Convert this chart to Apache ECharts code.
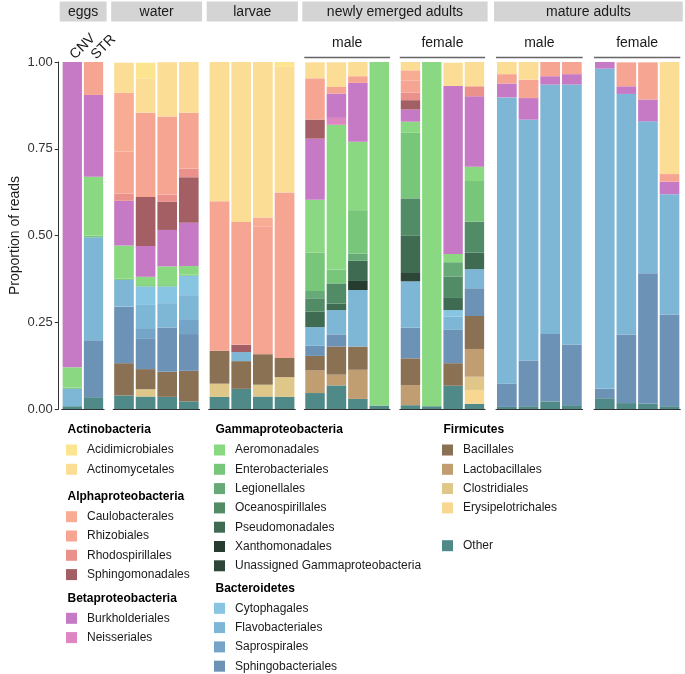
<!DOCTYPE html>
<html>
<head>
<meta charset="utf-8">
<script src="https://cdn.jsdelivr.net/npm/echarts@6/dist/echarts.min.js"></script>
<style>
  html, body { margin: 0; padding: 0; background: #fff; }
  #chart { width: 685px; height: 674px; }
</style>
</head>
<body>
<div id="chart"></div>
<script>
// samples, in panel order: eggs(2), water(4), larvae(4), newly emerged male/female (4+4), mature male/female (4+4)
var samples = ['CNV', 'STR', 'W1', 'W2', 'W3', 'W4', 'L1', 'L2', 'L3', 'L4',
  'NM1', 'NM2', 'NM3', 'NM4', 'NF1', 'NF2', 'NF3', 'NF4',
  'MM1', 'MM2', 'MM3', 'MM4', 'MF1', 'MF2', 'MF3', 'MF4']
var panelSizes = [2, 4, 4, 4, 4, 4, 4]
var stripLabels = ['eggs', 'water', 'larvae', 'newly emerged adults', 'mature adults']
var stripPanels = [[0], [1], [2], [3, 4], [5, 6]]
var subLabels = ['', '', '', 'male', 'female', 'male', 'female']
var yTicks = ['0.00', '0.25', '0.50', '0.75', '1.00']

// proportion of reads per order (one value per sample, same order as samples)
var acidimicrobiales   = [0, 0, 0, .045, 0, 0, 0, 0, 0, .014, 0, 0, 0, 0, 0, 0, 0, 0, 0, 0, 0, 0, 0, 0, 0, 0]
var actinomycetales    = [0, 0, .087, .099, .156, .146, .401, .462, .448, .362, .046, .071, .041, 0, .024, 0, .067, .07, .035, .051, 0, 0, 0, 0, 0, .323]
var caulobacterales    = [0, 0, .169, 0, 0, 0, 0, 0, .025, 0, 0, 0, 0, 0, .029, 0, 0, 0, 0, 0, 0, 0, 0, 0, 0, 0]
var rhizobiales        = [0, .096, .121, .243, .225, .161, .431, .354, .369, .477, .119, .019, .019, 0, .035, 0, 0, 0, .027, .053, .041, .035, 0, .069, .107, .022]
var rhodospirillales   = [0, 0, .021, 0, .021, .025, 0, 0, 0, 0, 0, 0, 0, 0, .022, 0, 0, .029, 0, 0, 0, 0, 0, 0, 0, 0]
var sphingomonadales   = [0, 0, 0, .141, .081, .131, 0, .021, 0, 0, .055, 0, 0, 0, .027, 0, 0, 0, 0, 0, 0, 0, 0, 0, 0, 0]
var burkholderiales    = [.88, .236, .129, .089, .105, .125, 0, 0, 0, 0, .176, .07, .17, 0, .035, 0, .484, .203, .04, .062, .024, .03, .019, .022, .063, .036]
var neisseriales       = [0, 0, 0, 0, 0, 0, 0, 0, 0, 0, 0, .02, 0, 0, 0, 0, 0, 0, 0, 0, 0, 0, 0, 0, 0, 0]
var aeromonadales      = [.058, .17, .095, .024, .054, .025, 0, 0, 0, 0, .152, .417, .197, .99, .032, .992, .024, .041, 0, 0, 0, 0, 0, 0, 0, 0]
var enterobacteriales  = [.004, .004, .004, .004, .004, .003, 0, 0, 0, 0, .111, .04, .125, 0, .189, 0, 0, .117, 0, 0, 0, 0, 0, 0, 0, 0]
var legionellales      = [0, 0, 0, 0, 0, 0, 0, 0, 0, 0, .021, 0, .021, 0, 0, 0, .041, 0, 0, 0, 0, 0, 0, 0, 0, 0]
var oceanospirillales  = [0, 0, 0, 0, 0, 0, 0, 0, 0, 0, .038, .058, 0, 0, .108, 0, .062, .089, 0, 0, 0, 0, 0, 0, 0, 0]
var pseudomonadales    = [0, 0, 0, 0, 0, 0, 0, 0, 0, 0, .045, .019, .058, 0, .107, 0, .035, .048, 0, 0, 0, 0, 0, 0, 0, 0]
var xanthomonadales    = [0, 0, 0, 0, 0, 0, 0, 0, 0, 0, 0, 0, .026, 0, 0, 0, 0, 0, 0, 0, 0, 0, 0, 0, 0, 0]
var unassignedGamma    = [0, 0, 0, 0, 0, 0, 0, 0, 0, 0, 0, 0, 0, 0, .024, 0, 0, 0, 0, 0, 0, 0, 0, 0, 0, 0]
var cytophagales       = [0, 0, 0, .053, .048, .056, 0, 0, 0, 0, 0, 0, 0, 0, 0, 0, .019, 0, 0, 0, 0, 0, 0, 0, 0, 0]
var flavobacteriales   = [.05, .297, .077, .067, .07, .069, 0, .026, 0, 0, .054, .07, .163, 0, .134, 0, .038, .055, .825, .694, .719, .749, .923, .693, .438, .347]
var saprospirales      = [0, 0, 0, .031, 0, .043, 0, 0, 0, 0, 0, 0, 0, 0, 0, 0, 0, 0, 0, 0, 0, 0, 0, 0, 0, 0]
var sphingobacteriales = [0, .164, .163, .087, .128, .106, 0, 0, 0, 0, .029, .035, 0, 0, .088, 0, .096, .08, .067, .132, .194, .175, .027, .198, .376, .264]
var bacillales         = [0, 0, .093, .058, .072, .088, .095, .08, .088, .055, .042, .081, .067, 0, .077, 0, .065, .095, 0, 0, 0, 0, 0, 0, 0, 0]
var lactobacillales    = [0, 0, 0, 0, 0, 0, 0, 0, 0, 0, .065, .031, .084, 0, .058, 0, 0, .08, 0, 0, 0, 0, 0, 0, 0, 0]
var clostridiales      = [0, 0, 0, .021, 0, 0, .038, 0, .034, .057, 0, 0, 0, 0, 0, 0, 0, .038, 0, 0, 0, 0, 0, 0, 0, 0]
var erysipelotrichales = [0, 0, 0, 0, 0, 0, 0, 0, 0, 0, 0, 0, 0, 0, 0, 0, 0, .04, 0, 0, 0, 0, 0, 0, 0, 0]
var other              = [.008, .034, .039, .036, .035, .022, .035, .058, .036, .035, .046, .068, .029, .01, .011, .008, .067, .015, .006, .008, .022, .011, .031, .017, .015, .008]

// legend order (top of stack first)
var taxa = [
  { name: 'Acidimicrobiales', color: '#FCE58E', values: acidimicrobiales },
  { name: 'Actinomycetales', color: '#FCDD95', values: actinomycetales },
  { name: 'Caulobacterales', color: '#F9AC94', values: caulobacterales },
  { name: 'Rhizobiales', color: '#F7A593', values: rhizobiales },
  { name: 'Rhodospirillales', color: '#EB918C', values: rhodospirillales },
  { name: 'Sphingomonadales', color: '#A35F64', values: sphingomonadales },
  { name: 'Burkholderiales', color: '#C679C4', values: burkholderiales },
  { name: 'Neisseriales', color: '#DD86C1', values: neisseriales },
  { name: 'Aeromonadales', color: '#8BD883', values: aeromonadales },
  { name: 'Enterobacteriales', color: '#78C67A', values: enterobacteriales },
  { name: 'Legionellales', color: '#67AA77', values: legionellales },
  { name: 'Oceanospirillales', color: '#528C66', values: oceanospirillales },
  { name: 'Pseudomonadales', color: '#3E6B51', values: pseudomonadales },
  { name: 'Xanthomonadales', color: '#253C2F', values: xanthomonadales },
  { name: 'Unassigned Gammaproteobacteria', color: '#2D4637', values: unassignedGamma },
  { name: 'Cytophagales', color: '#87C5E2', values: cytophagales },
  { name: 'Flavobacteriales', color: '#7EB6D6', values: flavobacteriales },
  { name: 'Saprospirales', color: '#74A5C8', values: saprospirales },
  { name: 'Sphingobacteriales', color: '#6C92B6', values: sphingobacteriales },
  { name: 'Bacillales', color: '#8A7154', values: bacillales },
  { name: 'Lactobacillales', color: '#C09E72', values: lactobacillales },
  { name: 'Clostridiales', color: '#DFC689', values: clostridiales },
  { name: 'Erysipelotrichales', color: '#F8D891', values: erysipelotrichales },
  { name: 'Other', color: '#4F8A88', values: other }
]

var legendGroups = [
  { title: 'Actinobacteria', x: 66, y: 430, items: ['Acidimicrobiales', 'Actinomycetales'] },
  { title: 'Alphaproteobacteria', x: 66, y: 496.7, items: ['Caulobacterales', 'Rhizobiales', 'Rhodospirillales', 'Sphingomonadales'] },
  { title: 'Betaproteobacteria', x: 66, y: 598.3, items: ['Burkholderiales', 'Neisseriales'] },
  { title: 'Gammaproteobacteria', x: 214, y: 430, items: ['Aeromonadales', 'Enterobacteriales', 'Legionellales', 'Oceanospirillales', 'Pseudomonadales', 'Xanthomonadales', 'Unassigned Gammaproteobacteria'] },
  { title: 'Bacteroidetes', x: 214, y: 588.3, items: ['Cytophagales', 'Flavobacteriales', 'Saprospirales', 'Sphingobacteriales'] },
  { title: 'Firmicutes', x: 442, y: 430, items: ['Bacillales', 'Lactobacillales', 'Clostridiales', 'Erysipelotrichales'] },
  { title: '', x: 442, y: 525.7, items: ['Other'] }
]

var FONT = '"Liberation Sans", Arial, sans-serif'
var gridLeft = [61.7, 113.2, 208.7, 304.3, 399.8, 496, 594]
var gridWidth = [42.4, 86.4, 86.7, 85.7, 85.3, 86.7, 86.3]
var gridTop = 62
var gridHeight = 347

var chart = echarts.init(document.getElementById('chart'))

var grids = [], xAxes = [], yAxes = [], series = [], graphics = []
var start = 0
panelSizes.forEach(function(n, g) {
  var cats = samples.slice(start, start + n)
  grids.push({ left: gridLeft[g], width: gridWidth[g], top: gridTop, height: gridHeight })
  xAxes.push({
    type: 'category', gridIndex: g, data: cats,
    axisLine: { lineStyle: { color: '#333', width: 1 } },
    axisTick: { alignWithLabel: true, length: 4, lineStyle: { color: '#333' } },
    axisLabel: { show: false }
  })
  yAxes.push({
    type: 'value', gridIndex: g, min: 0, max: 1, interval: 0.25,
    show: g === 0, offset: 3,
    name: g === 0 ? 'Proportion of reads' : '',
    nameLocation: 'middle', nameGap: 37,
    nameTextStyle: { fontSize: 14, color: '#1a1a1a', fontFamily: FONT },
    axisLine: { show: true, lineStyle: { color: '#333', width: 1 } },
    axisTick: { show: true, length: 4, lineStyle: { color: '#333' } },
    axisLabel: {
      fontSize: 13, color: '#333', fontFamily: FONT, margin: 6,
      formatter: function(v) { return yTicks[Math.round(v * 4)] }
    },
    splitLine: { show: false }
  })
  // stack from the bottom: last taxon in the legend sits at the base
  taxa.slice().reverse().forEach(function(t) {
    series.push({
      type: 'bar', name: t.name, stack: 'p' + g,
      xAxisIndex: g, yAxisIndex: g,
      barWidth: '91%',
      itemStyle: { color: t.color },
      emphasis: { disabled: true },
      data: t.values.slice(start, start + n)
    })
  })
  if (subLabels[g]) {
    graphics.push({
      type: 'text', x: gridLeft[g] + gridWidth[g] / 2, y: 43,
      style: { text: subLabels[g], font: '14px ' + FONT, fill: '#1a1a1a', textAlign: 'center', textVerticalAlign: 'middle' }
    })
    graphics.push({
      type: 'line',
      shape: { x1: gridLeft[g], y1: 57.5, x2: gridLeft[g] + gridWidth[g], y2: 57.5 },
      style: { stroke: '#666', lineWidth: 1.5 }
    })
  }
  start += n
})

// sample names above the egg bars
xAxes.push({
  type: 'category', gridIndex: 0, position: 'top', data: samples.slice(0, 2),
  axisLine: { show: false },
  axisTick: { alignWithLabel: true, length: 4, lineStyle: { color: '#333' } },
  axisLabel: { rotate: -45, interval: 0, fontSize: 14, color: '#1a1a1a', fontFamily: FONT, margin: 5 }
})

// facet strips
stripLabels.forEach(function(label, i) {
  var p = stripPanels[i]
  var x0 = gridLeft[p[0]] - 2
  var x1 = gridLeft[p[p.length - 1]] + gridWidth[p[p.length - 1]] + 2.5
  graphics.push({
    type: 'rect', shape: { x: x0, y: 1.5, width: x1 - x0, height: 20 },
    style: { fill: '#D4D4D4' }
  })
  graphics.push({
    type: 'text', x: (x0 + x1) / 2, y: 12,
    style: { text: label, font: '14px ' + FONT, fill: '#1a1a1a', textAlign: 'center', textVerticalAlign: 'middle' }
  })
})

var legends = legendGroups.map(function(grp) {
  if (grp.title) {
    graphics.push({
      type: 'text', x: grp.x + 1.5, y: grp.y,
      style: { text: grp.title, font: 'bold 12px ' + FONT, fill: '#000', textAlign: 'left', textVerticalAlign: 'middle' }
    })
  }
  return {
    orient: 'vertical', left: grp.x, top: grp.y + 13.5, padding: 0,
    data: grp.items, icon: 'rect', itemWidth: 11, itemHeight: 11, itemGap: 6.3,
    selectedMode: false,
    textStyle: { fontSize: 12, lineHeight: 13, color: '#1a1a1a', fontFamily: FONT, padding: [0, 0, 0, 5] }
  }
})

chart.setOption({
  animation: false,
  backgroundColor: '#fff',
  grid: grids,
  xAxis: xAxes,
  yAxis: yAxes,
  legend: legends,
  graphic: { elements: graphics },
  series: series
})
</script>
</body>
</html>
